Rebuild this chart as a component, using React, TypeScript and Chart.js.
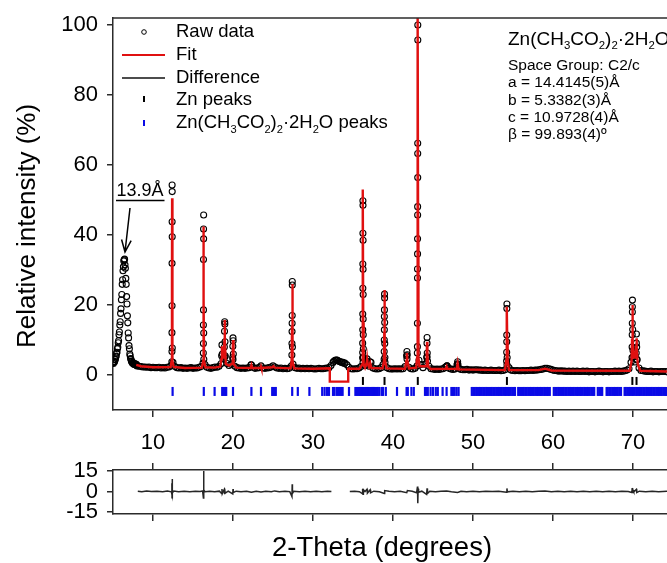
import React, { useEffect, useRef } from 'react';
import { Chart, registerables } from 'chart.js';

Chart.register(...registerables);

const FONT = '"Liberation Sans", Arial, Helvetica, sans-serif';
const AXIS = '#2b2b2b';
const RED = '#e01010';
const BLUE = '#0a0ae6';

const THETA_MIN = 5;
const THETA_MAX = 74.25;

const xTicks = [10, 20, 30, 40, 50, 60, 70];
const yTicksMain = [0, 20, 40, 60, 80, 100];
const yTicksDiff = [-15, 0, 15];

// Low-angle scan (13.9 Å reflection): 5.00–7.95°, step 0.05°
const lowAngleStart = 5.0;
const lowAngleStep = 0.05;
const lowAngleCounts = [
  3.5, 3.3, 3.7, 3.9, 3.8, 4.4, 4.5, 5.2, 5.4, 6.2,
  6.5, 7.5, 7.9, 9.2, 9.8, 11.5, 12.3, 14.3, 15.2, 17.6,
  18.9, 21.5, 23.0, 25.9, 27.2, 29.8, 30.9, 32.6, 32.9, 33.1,
  31.5, 30.5, 27.6, 25.9, 22.4, 20.3, 16.9, 14.9, 12.0, 10.6,
  8.4, 7.5, 6.0, 5.5, 4.7, 4.5, 3.9, 3.9, 3.5, 3.6,
  3.3, 3.4, 3.1, 3.3, 3.0, 3.2, 2.9, 3.1, 2.9, 3.0,
];

// Main scan background: 8.00–74.25°, step 0.25°
const scanStart = 8.0;
const scanStep = 0.25;
const scanCounts = [
  2.6, 2.5, 2.4, 2.3, // 8
  2.3, 2.2, 2.3, 2.1, // 9
  2.2, 2.1, 2.1, 2.2, // 10
  2.0, 2.1, 2.0, 2.2, // 11
  2.3, 2.7, 3.6, 2.4, // 12
  2.1, 2.0, 2.1, 1.9, // 13
  2.0, 1.9, 2.0, 2.1, // 14
  1.9, 2.0, 2.0, 2.2, // 15
  2.4, 3.4, 3.0, 2.2, // 16
  2.0, 1.9, 2.1, 2.3, // 17
  2.2, 2.5, 3.2, 4.6, // 18
  5.2, 3.3, 2.7, 3.1, // 19
  4.4, 2.5, 2.1, 2.0, // 20
  1.9, 2.0, 1.9, 2.0, // 21
  2.1, 2.9, 2.2, 1.9, // 22
  2.0, 2.1, 2.6, 2.0, // 23
  1.9, 2.0, 2.1, 2.3, // 24
  2.6, 2.3, 2.0, 1.9, // 25
  2.0, 1.8, 1.9, 1.8, // 26
  1.9, 2.5, 3.1, 2.1, // 27
  1.9, 2.0, 1.8, 1.9, // 28
  1.8, 1.9, 1.8, 1.9, // 29
  1.8, 1.7, 1.8, 1.9, // 30
  1.8, 1.8, 1.9, 2.0, // 31
  2.1, 2.7, 3.6, 4.2, // 32
  4.3, 3.9, 3.7, 3.6, // 33
  3.4, 2.9, 2.2, 1.8, // 34
  1.7, 1.8, 1.8, 2.0, // 35
  2.4, 3.6, 2.7, 4.0, // 36
  2.5, 3.6, 2.0, 1.8, // 37
  1.7, 1.8, 2.1, 3.0, // 38
  3.6, 2.1, 1.8, 1.7, // 39
  1.7, 1.8, 1.7, 1.8, // 40
  1.7, 1.8, 2.4, 4.6, // 41
  2.2, 1.8, 1.7, 1.9, // 42
  2.6, 4.2, 3.0, 2.1, // 43
  3.1, 5.2, 2.5, 1.8, // 44
  1.7, 1.6, 1.7, 1.6, // 45
  1.7, 1.8, 2.2, 2.6, // 46
  1.9, 1.7, 1.6, 1.7, // 47
  2.9, 1.9, 1.6, 1.5, // 48
  1.5, 1.6, 1.4, 1.5, // 49
  1.4, 1.5, 1.5, 1.4, // 50
  1.4, 1.3, 1.4, 1.3, // 51
  1.3, 1.4, 1.3, 1.3, // 52
  1.3, 1.4, 1.2, 1.3, // 53
  1.5, 2.9, 2.1, 1.4, // 54
  1.3, 1.2, 1.3, 1.2, // 55
  1.2, 1.3, 1.2, 1.3, // 56
  1.3, 1.4, 1.3, 1.4, // 57
  1.4, 1.5, 1.6, 1.7, // 58
  1.9, 1.9, 1.8, 1.6, // 59
  1.4, 1.3, 1.2, 1.1, // 60
  1.2, 1.1, 1.1, 1.0, // 61
  1.1, 1.0, 1.1, 1.0, // 62
  1.1, 1.0, 1.0, 1.1, // 63
  1.0, 1.1, 0.9, 1.0, // 64
  1.0, 0.9, 1.0, 1.1, // 65
  1.0, 0.9, 1.0, 1.0, // 66
  0.9, 1.0, 1.0, 1.1, // 67
  1.0, 1.1, 1.0, 1.1, // 68
  1.2, 1.4, 1.8, 3.6, // 69
  5.1, 3.7, 4.3, 2.0, // 70
  1.3, 1.2, 1.1, 1.0, // 71
  1.0, 1.1, 0.9, 1.0, // 72
  1.0, 0.9, 1.0, 1.0, // 73
  1.0, 0.9,           // 74
];

// Raw-data circles read along the sharp reflections: [2θ, intensity]
const peakPoints: [number, number][] = [
  [12.36, 3.8], [12.37, 6.7], [12.37, 12.1], [12.38, 19.8], [12.38, 31.9],
  [12.39, 43.8], [12.39, 54.3], [12.40, 52.4], [12.40, 39.5], [12.41, 7.7],
  [16.29, 6.3], [16.30, 9.0], [16.30, 14.3], [16.31, 18.6], [16.31, 33.0],
  [16.32, 41.7], [16.33, 45.7], [16.33, 38.9], [16.34, 12.0], [16.35, 4.5],
  [18.58, 5.5], [18.62, 8.6], [18.66, 6.0],
  [18.90, 5.0], [18.92, 8.0], [18.94, 12.5], [18.96, 15.2], [18.98, 14.6], [19.00, 9.5], [19.02, 5.5],
  [19.96, 5.0], [19.98, 8.2], [20.00, 10.6], [20.02, 9.8], [20.04, 6.0],
  [22.30, 2.9],
  [27.36, 5.7], [27.37, 9.0], [27.38, 12.4], [27.39, 14.8], [27.40, 17.0],
  [27.41, 25.7], [27.41, 26.7], [27.43, 8.0],
  [32.60, 3.9], [32.90, 4.3], [33.10, 4.1], [33.40, 3.8], [33.60, 3.6], [33.90, 3.3],
  [36.20, 4.9], [36.21, 6.4], [36.21, 9.1], [36.22, 12.9], [36.22, 17.4],
  [36.23, 24.8], [36.23, 31.7], [36.24, 40.5], [36.24, 49.8], [36.25, 48.5],
  [36.26, 38.5], [36.26, 30.2], [36.27, 23.0], [36.27, 16.0], [36.28, 11.5],
  [36.29, 7.5], [36.30, 5.0],
  [36.72, 3.5], [36.76, 4.6], [36.80, 3.8], [37.15, 3.8],
  [38.89, 4.5], [38.90, 6.7], [38.91, 10.0], [38.92, 12.9], [38.92, 16.7],
  [38.93, 18.6], [38.94, 23.1], [38.95, 22.0], [38.96, 15.0], [38.97, 9.0], [38.99, 5.0],
  [41.70, 5.5], [41.74, 6.7], [41.78, 5.8],
  [43.04, 6.3], [43.05, 8.1], [43.05, 14.8], [43.06, 27.7], [43.06, 30.3],
  [43.07, 34.6], [43.07, 38.9], [43.08, 45.7], [43.08, 48.1], [43.09, 56.4],
  [43.09, 63.3], [43.09, 66.2], [43.10, 95.7], [43.10, 100.0],
  [44.22, 5.0], [44.25, 9.1], [44.26, 10.7], [44.28, 6.3], [44.31, 4.0],
  [46.65, 2.4], [46.75, 2.6],
  [48.05, 3.2], [48.08, 3.8], [48.12, 3.0],
  [54.20, 4.0], [54.21, 6.5], [54.22, 9.5], [54.22, 11.4], [54.23, 19.0], [54.24, 20.3], [54.27, 5.0],
  [69.88, 5.0], [69.89, 8.0], [69.90, 11.5], [69.91, 14.8], [69.92, 18.0],
  [69.92, 19.5], [69.93, 21.4], [69.96, 13.0], [70.00, 7.0],
  [70.40, 6.3], [70.42, 9.1], [70.43, 11.7], [70.46, 8.0], [70.50, 4.5],
];

// Rietveld fit curve (excluded region 32.1–34.4° shown as a notch)
const fitCurve: [number, number][] = [
  [7.9, 2.9], [8.5, 2.5], [10, 2.2], [12.2, 2.3], [12.33, 4], [12.37, 25], [12.39, 50.5],
  [12.41, 25], [12.45, 4], [12.6, 2.3], [14, 2.0], [16.1, 2.1], [16.28, 4], [16.31, 22],
  [16.32, 42.4], [16.34, 22], [16.38, 4], [16.55, 2.2], [17.7, 2.1], [18.4, 2.4],
  [18.55, 4.5], [18.62, 8.2], [18.7, 5], [18.85, 5], [18.93, 10], [18.96, 15.7],
  [18.99, 10], [19.1, 3.2], [19.5, 2.7], [19.9, 3.2], [19.97, 7], [20.0, 10.0],
  [20.03, 7], [20.1, 3.2], [20.4, 2.1], [22.2, 2.0], [22.3, 2.8], [22.4, 2.0],
  [23.45, 2.0], [23.5, 2.4], [23.55, 2.0], [24.9, 2.2], [25.05, 2.5], [25.2, 2.1],
  [27.2, 1.9], [27.33, 4], [27.38, 14], [27.41, 26.0], [27.44, 14], [27.48, 4],
  [27.65, 1.9], [30, 1.8], [32.1, 1.9], [32.1, -1.9], [34.4, -1.9], [34.4, 1.8],
  [35.8, 1.8], [36.15, 3], [36.2, 15], [36.24, 53], [36.28, 15], [36.33, 3],
  [36.5, 2.1], [36.72, 3.6], [36.76, 4.4], [36.8, 3.4], [37.0, 2.3], [37.15, 3.4],
  [37.3, 2.0], [38.7, 1.9], [38.87, 4], [38.91, 12], [38.94, 24.3], [38.97, 12],
  [39.02, 4], [39.2, 1.9], [41.5, 1.8], [41.68, 4], [41.74, 6.3], [41.8, 4],
  [42.0, 1.9], [42.9, 2.1], [43.02, 5], [43.06, 40], [43.1, 104], [43.14, 40],
  [43.18, 5], [43.3, 2.5], [44.15, 2.5], [44.22, 6], [44.26, 9.5], [44.3, 6],
  [44.4, 2.4], [44.7, 1.7], [46.6, 1.8], [46.7, 2.4], [46.8, 1.8], [47.95, 1.7],
  [48.08, 3.4], [48.2, 1.6], [54.0, 1.4], [54.15, 4], [54.2, 10], [54.24, 19.5],
  [54.28, 10], [54.33, 4], [54.5, 1.4], [58.2, 1.4], [59.0, 1.8], [59.8, 1.3],
  [69.6, 1.2], [69.82, 4], [69.88, 10], [69.93, 20.0], [69.98, 10], [70.1, 5],
  [70.3, 5], [70.4, 8], [70.44, 10.5], [70.48, 8], [70.6, 3], [70.9, 1.2], [74.25, 1.0],
];

// Difference (observed − calculated), gap over the excluded region
const diffCurve: [number, number | null][] = [
  [8.1, 0.2], [8.6, -0.2], [9.2, 0.3], [9.8, -0.1], [10.5, 0.2], [11.2, -0.2], [11.8, 0.3],
  [12.3, -0.3], [12.35, -2.0], [12.37, 6.0], [12.38, -4.5], [12.39, 9.0], [12.40, -3.0],
  [12.42, 2.0], [12.45, -1.0], [12.6, 0.3], [13.2, -0.2], [13.9, 0.2], [14.6, -0.2],
  [15.3, 0.2], [15.9, -0.1], [16.2, 0.3], [16.30, -4.7], [16.32, 14.8], [16.34, -3.0],
  [16.37, 1.0], [16.5, -0.2], [17.1, 0.2], [17.7, -0.3], [18.3, 0.2], [18.58, -1.5],
  [18.62, 1.8], [18.66, -1.6], [18.9, 1.4], [18.94, -2.0], [18.97, 2.0], [19.02, -1.2],
  [19.4, 0.2], [19.97, -1.8], [20.0, 1.8], [20.03, -0.8], [20.4, 0.2], [21.0, -0.2],
  [21.7, 0.2], [22.3, -0.6], [22.9, 0.2], [23.5, -0.4], [24.1, 0.2], [24.8, -0.2],
  [25.2, 0.4], [25.8, -0.2], [26.5, 0.2], [27.1, -0.1], [27.37, -3.7], [27.40, 5.2],
  [27.43, -1.5], [27.6, 0.2], [28.3, -0.2], [29.0, 0.2], [29.7, -0.2], [30.4, 0.2],
  [31.1, -0.2], [31.8, 0.2], [32.3, 0.0], [33.4, null], [34.6, 0.0], [35.2, 0.2],
  [35.8, -0.2], [36.15, -1.5], [36.2, 1.8], [36.25, -2.0], [36.3, 1.2], [36.5, -0.1],
  [36.75, 1.5], [36.8, -1.2], [37.15, 1.2], [37.2, -1.0], [37.6, 0.2], [38.3, -0.2],
  [38.92, -1.4], [38.96, 0.6], [39.5, 0.1], [40.2, -0.2], [40.9, 0.2], [41.72, -0.9],
  [41.8, 0.6], [42.4, 0.1], [42.95, -1.0], [43.06, 3.5], [43.10, -8.5], [43.14, 2.0],
  [43.2, -0.5], [43.6, 0.2], [44.2, -2.2], [44.26, 2.2], [44.31, -1.5], [44.6, 0.1],
  [45.3, -0.2], [46.0, 0.2], [46.7, 0.4], [47.3, -0.2], [48.08, -0.8], [48.5, 0.1],
  [49.2, -0.2], [50.0, 0.2], [50.8, -0.2], [51.6, 0.2], [52.4, -0.1], [53.2, 0.2],
  [54.2, -0.6], [54.24, 2.2], [54.3, -0.3], [55.0, 0.2], [55.8, -0.2], [56.6, 0.2],
  [57.4, -0.2], [58.2, 0.1], [59.0, 0.3], [59.8, -0.2], [60.6, 0.2], [61.4, -0.2],
  [62.2, 0.2], [63.0, -0.2], [63.8, 0.2], [64.6, -0.2], [65.4, 0.2], [66.2, -0.2],
  [67.0, 0.2], [67.8, -0.2], [68.6, 0.2], [69.4, -0.1], [69.86, -0.8], [69.9, 2.5],
  [69.95, -1.0], [70.0, 1.0], [70.1, -0.3], [70.43, 1.5], [70.47, -0.8], [70.8, 0.2],
  [71.6, -0.2], [72.4, 0.2], [73.2, -0.2], [74.25, 0.1],
];

// Bragg positions
const znPeaks = [36.24, 38.94, 43.1, 54.24, 69.92, 70.44];
const acetatePeaks = [
  12.45, 16.35, 17.7, 18.65, 18.8, 19.0, 19.15, 20.0, 22.3, 23.5, 24.9, 25.05, 25.2, 25.35,
  27.4, 28.1, 29.55, 31.15, 31.45, 31.75, 32.0, 32.5, 32.7, 33.0, 33.25, 33.5, 33.7, 34.5,
  35.3, 35.5, 35.7, 35.85, 36.0, 36.15, 36.3, 36.45, 36.6, 36.75, 36.9, 37.05, 37.2, 37.35,
  37.5, 37.65, 37.8, 37.95, 38.1, 38.3, 38.6, 38.75, 39.1, 40.5, 41.7, 41.85, 42.3, 42.6,
  44.0, 44.15, 44.35, 44.7, 45.0, 45.35, 45.6, 46.2, 46.7, 47.3, 47.5, 47.7, 47.95, 48.2,
  49.85, 50.05, 50.2, 50.4, 50.55, 50.75, 50.9, 51.1, 51.3, 51.45, 51.65, 51.8, 52.0, 52.2,
  52.35, 52.55, 52.7, 52.9, 53.1, 53.25, 53.45, 53.6, 53.8, 54.0, 54.15, 54.35, 54.5, 54.7,
  54.9, 55.1, 55.25, 55.65, 55.8, 56.0, 56.2, 56.35, 56.55, 56.7, 56.9, 57.1, 57.25, 57.45,
  57.6, 57.8, 58.0, 58.15, 58.35, 58.5, 58.7, 58.9, 59.05, 59.25, 59.4, 59.6, 60.1, 60.3,
  60.45, 60.65, 60.8, 61.0, 61.2, 61.35, 61.55, 61.7, 61.9, 62.1, 62.25, 62.45, 62.6, 62.8,
  63.0, 63.15, 63.35, 63.5, 63.7, 63.9, 64.05, 64.25, 64.4, 64.6, 64.8, 65.0, 65.15, 65.6,
  65.8, 66.0, 66.15, 66.7, 66.85, 67.05, 67.2, 67.4, 67.6, 67.75, 67.95, 68.1, 68.3, 68.5,
  68.95, 69.1, 69.3, 69.5, 69.65, 69.85, 70.0, 70.2, 70.4, 70.55, 70.75, 70.9, 71.1, 71.3,
  71.45, 71.65, 71.8, 72.0, 72.2, 72.35, 72.55, 72.7, 72.9, 73.1, 73.25, 73.45, 73.6, 73.8,
  74.0, 74.15,
];

const ZN_TICK_LEVEL = -1.7;
const ACETATE_TICK_LEVEL = -4.7;

type Run = [string, number];
const formulaRuns: Run[] = [
  ['Zn(CH', 0], ['3', -1], ['CO', 0], ['2', -1], [')', 0], ['2', -1], ['·2H', 0], ['2', -1], ['O', 0],
];
const legendLabels = ['Raw data', 'Fit', 'Difference', 'Zn peaks'];
const cellLines = [
  'Space Group: C2/c',
  'a = 14.4145(5)Å',
  'b = 5.3382(3)Å',
  'c = 10.9728(4)Å',
  'β = 99.893(4)º',
];

function drawRuns(ctx: CanvasRenderingContext2D, runs: Run[], x: number, yMid: number, size: number) {
  let cx = x;
  const base = yMid + size * 0.35;
  ctx.textBaseline = 'alphabetic';
  ctx.textAlign = 'left';
  for (const [t, k] of runs) {
    const s = k === 0 ? size : size * 0.6;
    ctx.font = `${s}px ${FONT}`;
    const dy = k === -1 ? size * 0.22 : k === 1 ? -size * 0.4 : 0;
    ctx.fillText(t, cx, base + dy);
    cx += ctx.measureText(t).width;
  }
}

function rawSeries() {
  const pts: { x: number; y: number }[] = [];
  lowAngleCounts.forEach((y, i) => pts.push({ x: lowAngleStart + i * lowAngleStep, y }));
  scanCounts.forEach((y, i) => pts.push({ x: scanStart + i * scanStep, y }));
  peakPoints.forEach(([x, y]) => pts.push({ x, y }));
  return pts;
}

const topDecor = {
  id: 'topDecor',
  afterDraw(chart: any) {
    const { ctx, chartArea } = chart;
    ctx.save();
    ctx.strokeStyle = AXIS;
    ctx.lineWidth = 1.5;
    ctx.beginPath();
    ctx.moveTo(chartArea.left, chartArea.top);
    ctx.lineTo(chartArea.right, chartArea.top);
    ctx.stroke();

    // Legend
    const symX = 144;
    const textX = 176;
    const rows = [32, 55, 78, 100, 122];
    ctx.fillStyle = '#000';
    ctx.font = `18.5px ${FONT}`;
    ctx.textBaseline = 'middle';
    ctx.textAlign = 'left';
    legendLabels.forEach((t, i) => ctx.fillText(t, textX, rows[i]));
    drawRuns(ctx, [...formulaRuns, [' peaks', 0]], textX, rows[4], 18.5);

    ctx.lineWidth = 1;
    ctx.strokeStyle = '#000';
    ctx.beginPath();
    ctx.arc(symX, rows[0], 2.3, 0, Math.PI * 2);
    ctx.stroke();
    ctx.lineWidth = 2;
    ctx.strokeStyle = RED;
    ctx.beginPath();
    ctx.moveTo(122, rows[1]);
    ctx.lineTo(165, rows[1]);
    ctx.stroke();
    ctx.lineWidth = 1.6;
    ctx.strokeStyle = '#111';
    ctx.beginPath();
    ctx.moveTo(122, rows[2]);
    ctx.lineTo(165, rows[2]);
    ctx.stroke();
    ctx.lineWidth = 2;
    ctx.strokeStyle = '#000';
    ctx.beginPath();
    ctx.moveTo(symX, rows[3] - 4);
    ctx.lineTo(symX, rows[3] + 2);
    ctx.stroke();
    ctx.strokeStyle = BLUE;
    ctx.beginPath();
    ctx.moveTo(symX, rows[4] - 2);
    ctx.lineTo(symX, rows[4] + 4);
    ctx.stroke();

    // Cell parameters
    ctx.fillStyle = '#000';
    drawRuns(ctx, formulaRuns, 508, 38, 19);
    ctx.font = `15.5px ${FONT}`;
    ctx.textBaseline = 'middle';
    ctx.textAlign = 'left';
    cellLines.forEach((t, i) => ctx.fillText(t, 508, 66 + i * 17.2));

    // 13.9 Å label + arrow
    ctx.font = `18px ${FONT}`;
    ctx.fillText('13.9Å', 116.5, 191);
    ctx.lineWidth = 1.5;
    ctx.strokeStyle = '#000';
    ctx.beginPath();
    ctx.moveTo(116, 200.5);
    ctx.lineTo(164.5, 200.5);
    ctx.stroke();
    const ax0 = 130, ay0 = 208, ax1 = 125, ay1 = 252;
    ctx.beginPath();
    ctx.moveTo(ax0, ay0);
    ctx.lineTo(ax1, ay1);
    const ang = Math.atan2(ay1 - ay0, ax1 - ax0);
    const hl = 13;
    ctx.moveTo(ax1 - hl * Math.cos(ang - 0.38), ay1 - hl * Math.sin(ang - 0.38));
    ctx.lineTo(ax1, ay1);
    ctx.lineTo(ax1 - hl * Math.cos(ang + 0.38), ay1 - hl * Math.sin(ang + 0.38));
    ctx.stroke();

    // y-axis title
    ctx.save();
    ctx.translate(27.5, 226);
    ctx.rotate(-Math.PI / 2);
    ctx.font = `26px ${FONT}`;
    ctx.textAlign = 'center';
    ctx.textBaseline = 'middle';
    ctx.fillText('Relative intensity (%)', 0, 0);
    ctx.restore();
    ctx.restore();
  },
};

const bottomDecor = {
  id: 'bottomDecor',
  afterDraw(chart: any) {
    const { ctx } = chart;
    ctx.save();
    ctx.fillStyle = '#000';
    ctx.font = `27.5px ${FONT}`;
    ctx.textAlign = 'center';
    ctx.textBaseline = 'middle';
    ctx.fillText('2-Theta (degrees)', 382, 128);
    ctx.restore();
  },
};

const tickFont = { family: FONT, size: 22 };

function axisGrid(len: number) {
  return { drawOnChartArea: false, drawTicks: true, tickLength: len, color: AXIS, lineWidth: 1.5 };
}
const axisBorder = { display: true, color: AXIS, width: 1.5 };

function fixX(h: number) {
  return (s: any) => {
    s.height = h;
    s.paddingLeft = 0;
    s.paddingRight = 0;
    s.paddingTop = 0;
    s.paddingBottom = 0;
  };
}
function fixY(w: number) {
  return (s: any) => {
    s.width = w;
    s.paddingLeft = 0;
    s.paddingRight = 0;
    s.paddingTop = 0;
    s.paddingBottom = 0;
  };
}

export default function App() {
  const topRef = useRef<HTMLCanvasElement>(null);
  const botRef = useRef<HTMLCanvasElement>(null);

  useEffect(() => {
    const raw = rawSeries();
    const fit = fitCurve.map(([x, y]) => ({ x, y }));
    const diff = diffCurve.map(([x, y]) => ({ x, y }));
    const zn = znPeaks.map((x) => ({ x, y: ZN_TICK_LEVEL }));
    const ac = acetatePeaks.map((x) => ({ x, y: ACETATE_TICK_LEVEL }));

    const top = new Chart(topRef.current as HTMLCanvasElement, {
      type: 'scatter',
      data: {
        datasets: [
          {
            label: 'Fit', data: fit, showLine: true, borderColor: RED, borderWidth: 2.4,
            pointRadius: 0, pointHoverRadius: 0, order: 0,
          } as any,
          {
            label: 'Zn peaks', data: zn, pointStyle: 'line', pointRotation: 90, pointRadius: 4,
            pointHoverRadius: 4, pointBorderColor: '#000', pointBorderWidth: 2, borderColor: '#000', order: 1,
          } as any,
          {
            label: 'Zn(CH3CO2)2·2H2O peaks', data: ac, pointStyle: 'line', pointRotation: 90,
            pointRadius: 4.5, pointHoverRadius: 4.5, pointBorderColor: BLUE, pointBorderWidth: 2.2,
            borderColor: BLUE, order: 1,
          } as any,
          {
            label: 'Raw data', data: raw, pointStyle: 'circle', pointRadius: 3, pointHoverRadius: 3,
            pointBorderColor: '#000', pointBorderWidth: 1.1, pointBackgroundColor: 'rgba(0,0,0,0)',
            borderColor: '#000', order: 2,
          } as any,
        ],
      },
      options: {
        responsive: false,
        animation: false,
        devicePixelRatio: 1,
        events: [],
        layout: { padding: { top: 18, left: 0, right: 0, bottom: 0 }, autoPadding: false },
        plugins: { legend: { display: false }, tooltip: { enabled: false } },
        scales: {
          x: {
            type: 'linear', position: 'bottom', min: THETA_MIN, max: THETA_MAX,
            afterBuildTicks: (s: any) => { s.ticks = xTicks.map((v) => ({ value: v })); },
            afterFit: fixX(10),
            grid: axisGrid(7), border: axisBorder,
            ticks: { display: false, autoSkip: false },
          },
          y: {
            type: 'linear', position: 'left', min: -10, max: 102,
            afterBuildTicks: (s: any) => { s.ticks = yTicksMain.map((v) => ({ value: v })); },
            afterFit: fixY(113),
            grid: axisGrid(6), border: axisBorder,
            ticks: { font: tickFont, color: '#000', padding: 9, autoSkip: false },
          },
        },
      } as any,
      plugins: [topDecor],
    });

    const bottom = new Chart(botRef.current as HTMLCanvasElement, {
      type: 'scatter',
      data: {
        datasets: [
          {
            label: 'Difference', data: diff, showLine: true, spanGaps: false, borderColor: '#262626',
            borderWidth: 1.5, pointRadius: 0, pointHoverRadius: 0, xAxisID: 'x', yAxisID: 'y',
          } as any,
        ],
      },
      options: {
        responsive: false,
        animation: false,
        devicePixelRatio: 1,
        events: [],
        layout: { padding: 0, autoPadding: false },
        plugins: { legend: { display: false }, tooltip: { enabled: false } },
        scales: {
          x: {
            type: 'linear', position: 'top', min: THETA_MIN, max: THETA_MAX,
            afterBuildTicks: (s: any) => { s.ticks = xTicks.map((v) => ({ value: v })); },
            afterFit: fixX(50),
            grid: axisGrid(7), border: axisBorder,
            ticks: { font: tickFont, color: '#000', padding: 7, maxRotation: 0, autoSkip: false },
          },
          xb: {
            axis: 'x', type: 'linear', position: 'bottom', min: THETA_MIN, max: THETA_MAX,
            afterBuildTicks: (s: any) => { s.ticks = xTicks.map((v) => ({ value: v })); },
            afterFit: fixX(49),
            grid: axisGrid(7), border: axisBorder,
            ticks: { display: false, autoSkip: false },
          },
          y: {
            type: 'linear', position: 'left', min: -16.3, max: 15.5,
            afterBuildTicks: (s: any) => { s.ticks = yTicksDiff.map((v) => ({ value: v })); },
            afterFit: fixY(113),
            grid: axisGrid(6), border: axisBorder,
            ticks: { font: tickFont, color: '#000', padding: 9, autoSkip: false },
          },
        },
      } as any,
      plugins: [bottomDecor],
    });

    return () => {
      top.destroy();
      bottom.destroy();
    };
  }, []);

  return (
    <div style={{ position: 'fixed', left: 0, top: 0, width: 667, height: 563, background: '#fff', overflow: 'hidden' }}>
      <canvas ref={topRef} width={667} height={420} style={{ position: 'absolute', left: 0, top: 0, width: 667, height: 420 }} />
      <canvas ref={botRef} width={667} height={143} style={{ position: 'absolute', left: 0, top: 420, width: 667, height: 143 }} />
    </div>
  );
}
